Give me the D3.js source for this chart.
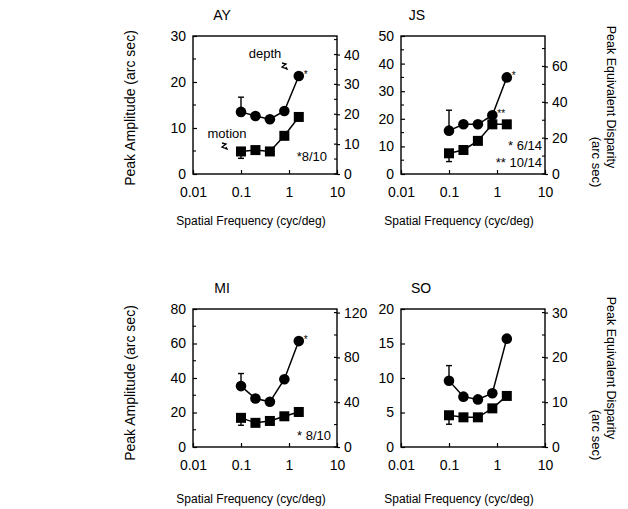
<!DOCTYPE html>
<html>
<head>
<meta charset="utf-8">
<script src="https://cdn.jsdelivr.net/npm/d3@7.9.0/dist/d3.min.js"></script>
<style>
  body { margin: 0; background: #fff; }
  svg { font-family: "Liberation Sans", Arial, sans-serif; }
</style>
</head>
<body>
<svg id="chart" width="628" height="509"></svg>
<script>
// spatial frequencies (cyc/deg)
const freqs = [0.1, 0.2, 0.4, 0.8, 1.6];
const xTicks = [0.01, 0.1, 1, 10];

// peak amplitude (arc sec)
const ayDepth = [13.5, 12.6, 11.9, 13.7, 21.3];
const ayMotion = [4.9, 5.2, 4.9, 8.3, 12.4];
const jsDepth = [15.7, 18.0, 18.0, 21.3, 35.0];
const jsMotion = [7.5, 8.7, 12.0, 18.0, 18.0];
const miDepth = [35.3, 28.1, 26.2, 39.3, 61.4];
const miMotion = [16.9, 14.0, 15.1, 17.8, 20.3];
const soDepth = [9.6, 7.3, 6.9, 7.8, 15.7];
const soMotion = [4.6, 4.3, 4.3, 5.6, 7.4];

// error bars on the first point (depth upward, motion downward)
const depthErr = [16.7, 23.1, 42.6, 11.8];
const motionErr = [3.4, 4.5, 12.6, 3.3];

// axis ranges / ticks
const leftMax = [30, 50, 80, 20];
const leftTicks = [[0, 10, 20, 30], [0, 10, 20, 30, 40, 50], [0, 20, 40, 60, 80], [0, 5, 10, 15, 20]];
const leftMinor = [[5, 15, 25], [5, 15, 25, 35, 45], [10, 30, 50, 70], []];
const rightTicks = [[0, 10, 20, 30, 40], [0, 20, 40, 60], [0, 40, 80, 120], [0, 10, 20, 30]];
const rightMinor = [[5, 15, 25, 35, 45], [10, 30, 50, 70], [20, 60, 100], [5, 15, 25]];
const dispFactor = 1.54; // equivalent disparity / amplitude

const names = ['AY', 'JS', 'MI', 'SO'];
const depthSeries = [ayDepth, jsDepth, miDepth, soDepth];
const motionSeries = [ayMotion, jsMotion, miMotion, soMotion];

const svg = d3.select('#chart');

const boxes = [
  { x: 193, y: 36, title: 29, xlab: 221 },
  { x: 401, y: 36, title: 16, xlab: 221 },
  { x: 193, y: 309, title: 29, xlab: 499 },
  { x: 401, y: 309, title: 20, xlab: 499 }
];
const bw = 144, bh = 138;

boxes.forEach((b, i) => {
  const g = svg.append('g').attr('transform', `translate(${b.x},${b.y})`);

  const x = d3.scaleLog().domain([0.01, 10]).range([0, bw]);
  const y = d3.scaleLinear().domain([0, leftMax[i]]).range([bh, 0]);
  const y2 = d3.scaleLinear().domain([0, leftMax[i] * dispFactor]).range([bh, 0]);

  // frame
  g.append('rect')
    .attr('width', bw).attr('height', bh)
    .attr('fill', 'none').attr('stroke', '#000').attr('stroke-width', 1.4);

  // left axis
  const la = g.append('g')
    .call(d3.axisLeft(y).tickValues(leftTicks[i]).tickSize(-4).tickPadding(7).tickFormat(d3.format('d')));
  la.select('.domain').remove();
  la.selectAll('text').attr('font-size', 14).attr('font-family', 'Liberation Sans, Arial, sans-serif');
  la.selectAll('line').attr('stroke-width', 1.2);
  g.selectAll('.lminor').data(leftMinor[i]).join('line')
    .attr('x1', 0).attr('x2', 3).attr('y1', d => y(d)).attr('y2', d => y(d))
    .attr('stroke', '#000').attr('stroke-width', 1.1);

  // right axis
  const ra = g.append('g').attr('transform', `translate(${bw},0)`)
    .call(d3.axisRight(y2).tickValues(rightTicks[i]).tickSize(3).tickPadding(4).tickFormat(d3.format('d')));
  ra.select('.domain').remove();
  ra.selectAll('text').attr('font-size', 14).attr('font-family', 'Liberation Sans, Arial, sans-serif');
  ra.selectAll('line').attr('stroke-width', 1.2);
  g.selectAll('.rmaj').data(rightTicks[i]).join('line')
    .attr('x1', bw - 3).attr('x2', bw).attr('y1', d => y2(d)).attr('y2', d => y2(d))
    .attr('stroke', '#000').attr('stroke-width', 1.2);
  g.selectAll('.rminor').data(rightMinor[i]).join('line')
    .attr('x1', bw - 3).attr('x2', bw).attr('y1', d => y2(d)).attr('y2', d => y2(d))
    .attr('stroke', '#000').attr('stroke-width', 1.1);

  // bottom axis
  const xa = g.append('g').attr('transform', `translate(0,${bh})`)
    .call(d3.axisBottom(x).tickValues(xTicks).tickSize(-4).tickPadding(13).tickFormat(d => String(d)));
  xa.select('.domain').remove();
  xa.selectAll('text').attr('font-size', 14).attr('font-family', 'Liberation Sans, Arial, sans-serif');
  xa.selectAll('line').attr('stroke-width', 1.2);

  // title
  g.append('text').attr('x', b.title).attr('y', -16).attr('text-anchor', 'middle')
    .attr('font-size', 14).text(names[i]);

  const depth = depthSeries[i], motion = motionSeries[i];
  const line = d3.line().x((d, k) => x(freqs[k])).y(d => y(d));

  // error bars
  const ex = x(freqs[0]);
  g.append('line').attr('x1', ex).attr('x2', ex).attr('y1', y(depth[0])).attr('y2', y(depthErr[i]))
    .attr('stroke', '#000').attr('stroke-width', 1.4);
  g.append('line').attr('x1', ex - 3).attr('x2', ex + 3).attr('y1', y(depthErr[i])).attr('y2', y(depthErr[i]))
    .attr('stroke', '#000').attr('stroke-width', 1.4);
  g.append('line').attr('x1', ex).attr('x2', ex).attr('y1', y(motion[0])).attr('y2', y(motionErr[i]))
    .attr('stroke', '#000').attr('stroke-width', 1.4);
  g.append('line').attr('x1', ex - 3).attr('x2', ex + 3).attr('y1', y(motionErr[i])).attr('y2', y(motionErr[i]))
    .attr('stroke', '#000').attr('stroke-width', 1.4);

  // motion (squares)
  g.append('path').attr('d', line(motion)).attr('fill', 'none').attr('stroke', '#000').attr('stroke-width', 1.5);
  g.selectAll('.sq').data(motion).join('rect')
    .attr('x', (d, k) => x(freqs[k]) - 5).attr('y', d => y(d) - 5)
    .attr('width', 10).attr('height', 10).attr('fill', '#000');

  // depth (circles)
  g.append('path').attr('d', line(depth)).attr('fill', 'none').attr('stroke', '#000').attr('stroke-width', 1.5);
  g.selectAll('.ci').data(depth).join('circle')
    .attr('cx', (d, k) => x(freqs[k])).attr('cy', d => y(d)).attr('r', 5.3).attr('fill', '#000');

  // x axis title
  svg.append('text').attr('x', b.x + bw / 2 - 14).attr('y', b.xlab + 4).attr('text-anchor', 'middle')
    .attr('font-size', 12).attr('fill', '#000').text('Spatial Frequency (cyc/deg)');

  // asterisks and notes
  const note = (tx, ty, s, size, anchor) => g.append('text').attr('x', tx).attr('y', ty)
    .attr('font-size', size).attr('fill', '#000').attr('opacity', 0.99)
    .attr('text-anchor', anchor || 'start').text(s);
  const lx = x(freqs[4]), ly = y(depth[4]);
  if (i === 0) {
    note(lx + 5, ly + 2, '*', 10);
    note(bw - 10, 125, '*8/10', 13, 'end');
    note(72, 22, 'depth', 13, 'middle');
    note(34, 102, 'motion', 13, 'middle');
  }
  if (i === 1) {
    note(lx + 5, ly + 2, '*', 10);
    note(x(freqs[3]) + 5, y(depth[3]) + 2, '**', 10);
    note(bw - 3, 114, '* 6/14', 13, 'end');
    note(bw - 3, 131, '** 10/14', 13, 'end');
  }
  if (i === 2) {
    note(lx + 5, ly + 2, '*', 10);
    note(bw - 6, 131, '* 8/10', 13, 'end');
  }
});

// squiggle arrows in AY
const squig = (cx, cy) => svg.append('path')
  .attr('d', `M${cx - 3},${cy - 4} l4,1 l-4,3 l5,2 l-1,-2`)
  .attr('fill', 'none').attr('stroke', '#000').attr('stroke-width', 1.3);
squig(285, 67);
squig(225, 147);

// y axis titles
[108, 383].forEach(cy => {
  svg.append('text').attr('transform', `translate(135,${cy}) rotate(-90)`)
    .attr('text-anchor', 'middle').attr('font-size', 14).text('Peak Amplitude (arc sec)');
});
[[97, 162], [368, 435]].forEach(([c1, c2]) => {
  svg.append('text').attr('transform', `translate(607,${c1}) rotate(90)`)
    .attr('text-anchor', 'middle').attr('font-size', 12.5).text('Peak Equivalent Disparity');
  svg.append('text').attr('transform', `translate(592,${c2}) rotate(90)`)
    .attr('text-anchor', 'middle').attr('font-size', 13).text('(arc sec)');
});
</script>
</body>
</html>
